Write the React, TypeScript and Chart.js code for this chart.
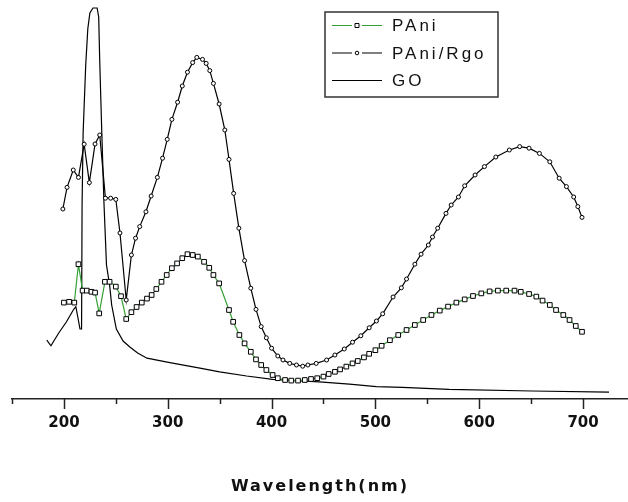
import { useEffect, useRef } from 'react';
import { Chart, registerables } from 'chart.js';

Chart.register(...registerables);

const seriesLabels = ['PAni', 'PAni/Rgo', 'GO'];
const xTitle = 'Wavelength(nm)';
const majorTicks = [200, 300, 400, 500, 600, 700];
const minorTicks = [150, 250, 350, 450, 550, 650];

const pAniWavelength = [200, 205, 210, 214, 218, 222, 226.5, 230, 234, 239.5, 244, 250, 255, 260, 265, 270, 275, 280, 284.5, 289, 294, 299, 304, 309, 314, 319, 324, 329, 335, 340, 344, 349.5, 359, 363, 369, 374, 380, 385, 390, 395, 401, 406, 413, 419, 425.5, 432, 438, 444, 450, 455, 461, 466, 472, 478, 483, 489, 494, 500, 506, 514, 522, 530, 538, 546, 554, 562, 570, 578, 586, 594, 602, 610, 618, 626, 634, 640, 648, 655, 661, 668, 674, 681, 687, 693, 699];
const pAniAbsorbance = [0.256, 0.258, 0.256, 0.352, 0.286, 0.286, 0.283, 0.281, 0.229, 0.308, 0.308, 0.296, 0.272, 0.215, 0.232, 0.245, 0.256, 0.266, 0.275, 0.29, 0.308, 0.325, 0.342, 0.354, 0.367, 0.377, 0.375, 0.371, 0.358, 0.343, 0.325, 0.304, 0.2375, 0.208, 0.175, 0.154, 0.133, 0.114, 0.1, 0.0875, 0.075, 0.067, 0.0625, 0.061, 0.061, 0.0625, 0.065, 0.067, 0.071, 0.0775, 0.083, 0.089, 0.096, 0.104, 0.11, 0.119, 0.128, 0.137, 0.148, 0.162, 0.175, 0.1875, 0.2, 0.2125, 0.225, 0.236, 0.246, 0.256, 0.264, 0.2725, 0.279, 0.284, 0.286, 0.286, 0.286, 0.283, 0.2775, 0.271, 0.261, 0.25, 0.2375, 0.225, 0.2125, 0.1975, 0.183];

const rgoWavelength = [199, 203, 209, 214, 219.5, 224.5, 230, 234.5, 240, 245, 250, 254, 260, 265, 269, 273, 279, 284, 290, 295, 299.5, 304, 309.5, 314, 319, 324, 328, 333.5, 337, 340.5, 344, 349.5, 355, 359, 363.5, 368.5, 374, 380, 385, 390, 395, 400, 406, 411, 417.5, 424, 430, 435, 443, 453, 461, 470, 478, 486, 494, 501, 507, 517, 525, 530, 538, 544, 551, 555, 560, 568, 573, 580, 586, 596, 605, 616, 629, 639, 648, 658, 668, 677, 684, 691, 695, 699];
const rgoAbsorbance = [0.49, 0.544, 0.5875, 0.569, 0.652, 0.556, 0.6525, 0.675, 0.517, 0.517, 0.514, 0.43, 0.2625, 0.375, 0.417, 0.446, 0.483, 0.5225, 0.569, 0.617, 0.664, 0.714, 0.757, 0.7975, 0.832, 0.856, 0.869, 0.864, 0.854, 0.836, 0.804, 0.7525, 0.6875, 0.614, 0.529, 0.442, 0.361, 0.292, 0.239, 0.196, 0.168, 0.142, 0.1225, 0.1125, 0.104, 0.1, 0.097, 0.1, 0.104, 0.1125, 0.125, 0.14, 0.157, 0.173, 0.193, 0.21, 0.228, 0.27, 0.293, 0.315, 0.352, 0.377, 0.4, 0.42, 0.442, 0.479, 0.5, 0.52, 0.548, 0.575, 0.596, 0.62, 0.6375, 0.646, 0.642, 0.629, 0.608, 0.567, 0.546, 0.52, 0.496, 0.469];

const goWavelength = [183.5, 187.5, 195, 202.5, 209, 211.5, 213, 215.5, 217, 217.5, 218.5, 221, 223, 225, 228, 232, 233.5, 234.5, 236.5, 238.5, 241, 244, 246, 250.5, 257, 263.5, 271, 280, 302, 331, 350, 376, 401, 446, 475, 501, 526, 571, 651, 725];
const goAbsorbance = [0.162, 0.148, 0.18, 0.208, 0.2375, 0.246, 0.225, 0.19, 0.19, 0.5, 0.68, 0.85, 0.94, 0.98, 0.9925, 0.9925, 0.97, 0.86, 0.68, 0.51, 0.35, 0.3, 0.25, 0.19, 0.16, 0.145, 0.13, 0.117, 0.106, 0.092, 0.083, 0.0725, 0.064, 0.058, 0.052, 0.046, 0.044, 0.039, 0.035, 0.032];

const GREEN = '#34a034';

const toPoints = (xs: number[], ys: number[]) => xs.map((x, i) => ({ x, y: ys[i] }));

const decorPlugin = {
  id: 'decor',
  beforeDraw(chart: any) {
    chart.ctx.letterSpacing = '2px';
  },
  beforeDatasetsDraw(chart: any) {
    chart.ctx.letterSpacing = '0px';
  },
  afterDraw(chart: any) {
    const { ctx, chartArea } = chart;
    const xs = chart.scales.x;
    const y0 = chartArea.bottom;
    ctx.save();
    ctx.letterSpacing = '0px';
    ctx.strokeStyle = '#222';
    ctx.lineWidth = 1.5;
    const drawTick = (v: number, len: number) => {
      const px = Math.round(xs.getPixelForValue(v)) + 0.5;
      ctx.beginPath();
      ctx.moveTo(px, y0);
      ctx.lineTo(px, y0 + len);
      ctx.stroke();
    };
    majorTicks.forEach((v) => drawTick(v, 10));
    minorTicks.forEach((v) => drawTick(v, 5));

    // legend box
    const bx = 325, by = 12, bw = 173, bh = 85;
    ctx.fillStyle = '#fff';
    ctx.fillRect(bx, by, bw, bh);
    ctx.strokeStyle = '#333';
    ctx.lineWidth = 1.5;
    ctx.strokeRect(bx, by, bw, bh);
    chart.data.datasets.forEach((ds: any, i: number) => {
      const y = by + 13.5 + i * 27.5;
      ctx.strokeStyle = ds.borderColor;
      ctx.lineWidth = 1.2;
      const hasMarker = ds.pointRadius > 0;
      ctx.beginPath();
      if (hasMarker) {
        ctx.moveTo(332, y); ctx.lineTo(352, y);
        ctx.moveTo(362, y); ctx.lineTo(382, y);
      } else {
        ctx.moveTo(332, y); ctx.lineTo(382, y);
      }
      ctx.stroke();
      if (hasMarker) {
        ctx.strokeStyle = '#000';
        ctx.fillStyle = '#fff';
        ctx.lineWidth = 1;
        ctx.beginPath();
        if (ds.pointStyle === 'rect') {
          ctx.rect(355, y - 2, 4, 4);
        } else {
          ctx.arc(357, y, 1.8, 0, Math.PI * 2);
        }
        ctx.fill();
        ctx.stroke();
      }
      ctx.fillStyle = '#111';
      ctx.font = '17px "Liberation Sans", Arial, sans-serif';
      ctx.letterSpacing = '3px';
      ctx.textBaseline = 'middle';
      ctx.textAlign = 'left';
      ctx.fillText(ds.label, 392, y + 1);
      ctx.letterSpacing = '0px';
    });
    ctx.restore();
  },
};

export default function App() {
  const ref = useRef<HTMLCanvasElement>(null);
  useEffect(() => {
    document.body.style.margin = '0';
    const allTicks = [...minorTicks, ...majorTicks].sort((a, b) => a - b);
    const chart = new Chart(ref.current as HTMLCanvasElement, {
      type: 'line',
      data: {
        datasets: [
          {
            label: seriesLabels[0],
            data: toPoints(pAniWavelength, pAniAbsorbance),
            borderColor: GREEN,
            borderWidth: 1.2,
            pointStyle: 'rect',
            pointRadius: 3.3,
            pointBorderColor: '#000',
            pointBackgroundColor: '#fff',
            pointBorderWidth: 1,
            tension: 0,
          },
          {
            label: seriesLabels[1],
            data: toPoints(rgoWavelength, rgoAbsorbance),
            borderColor: '#000',
            borderWidth: 1.2,
            pointStyle: 'circle',
            pointRadius: 2,
            pointBorderColor: '#000',
            pointBackgroundColor: '#fff',
            pointBorderWidth: 1,
            tension: 0,
          },
          {
            label: seriesLabels[2],
            data: toPoints(goWavelength, goAbsorbance),
            borderColor: '#000',
            borderWidth: 1.2,
            pointRadius: 0,
            tension: 0,
          },
        ],
      } as any,
      options: {
        responsive: false,
        animation: false,
        events: [],
        layout: { autoPadding: false, padding: { left: 12, right: 0, top: 5, bottom: 0 } },
        plugins: { legend: { display: false }, tooltip: { enabled: false } },
        scales: {
          x: {
            type: 'linear',
            min: 150,
            max: 743.3,
            afterBuildTicks: (scale: any) => {
              scale.ticks = allTicks.map((v) => ({ value: v }));
            },
            afterFit: (scale: any) => {
              scale.height = 103;
              scale.paddingLeft = 0;
              scale.paddingRight = 0;
            },
            grid: { display: false, drawTicks: false },
            border: { display: true, color: '#222', width: 1.5 },
            ticks: {
              z: 1,
              autoSkip: false,
              maxRotation: 0,
              padding: 15,
              color: '#111',
              font: { family: '"DejaVu Sans", sans-serif', size: 15, weight: 'bold' },
              callback: (v: any) => (majorTicks.includes(Number(v)) ? String(v) : ''),
            },
            title: {
              display: true,
              text: xTitle,
              color: '#111',
              padding: { top: 0, bottom: 6 },
              font: { family: '"DejaVu Sans", sans-serif', size: 16, weight: 'bold' },
            },
          },
          y: { display: false, min: 0.015, max: 1.0 },
        },
      } as any,
      plugins: [decorPlugin],
    });
    return () => chart.destroy();
  }, []);
  return (
    <div style={{ width: 628, height: 502 }}>
      <canvas ref={ref} width={628} height={502} style={{ display: 'block' }} />
    </div>
  );
}
